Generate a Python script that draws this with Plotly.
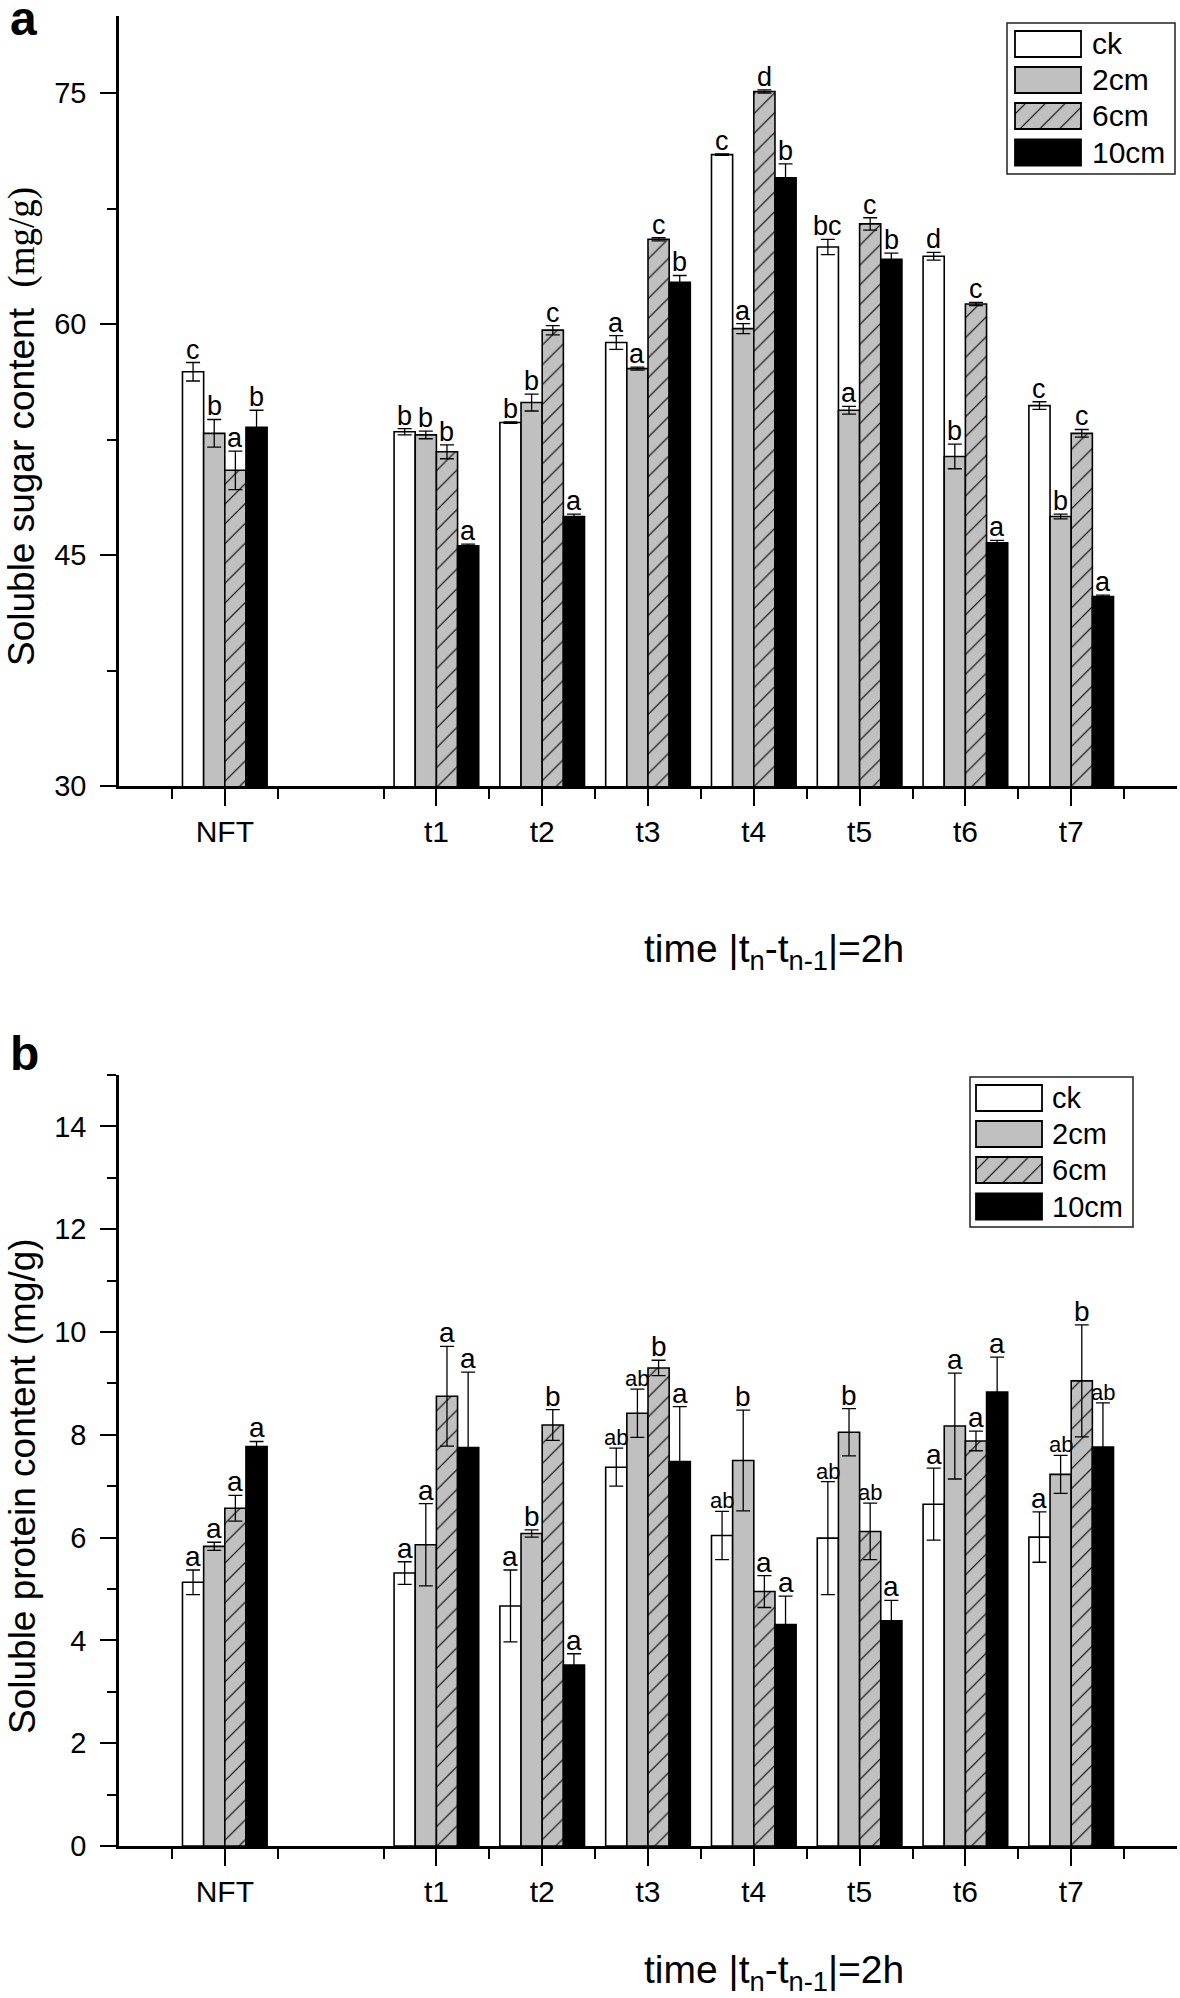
import plotly.graph_objects as go

# ---------------- data ----------------
categories = ["NFT", "t1", "t2", "t3", "t4", "t5", "t6", "t7"]
treatments = ["ck", "2cm", "6cm", "10cm"]

# panel a: soluble sugar content (mg/g)
sugar_ck = [56.9, 53.0, 53.6, 58.8, 71.0, 65.0, 64.4, 54.7]
sugar_2cm = [52.9, 52.8, 54.9, 57.1, 59.7, 54.4, 51.4, 47.5]
sugar_6cm = [50.5, 51.7, 59.6, 65.5, 75.1, 66.5, 61.3, 52.9]
sugar_10cm = [53.3, 45.6, 47.5, 62.7, 69.5, 64.2, 45.8, 42.3]
sugar_ck_err = [0.6, 0.2, 0.05, 0.45, 0.05, 0.5, 0.25, 0.25]
sugar_2cm_err = [0.9, 0.25, 0.55, 0.1, 0.33, 0.25, 0.8, 0.15]
sugar_6cm_err = [1.25, 0.45, 0.3, 0.1, 0.1, 0.4, 0.1, 0.25]
sugar_10cm_err = [1.1, 0.1, 0.15, 0.45, 0.9, 0.4, 0.15, 0.1]
sugar_ck_sig = ["c", "b", "b", "a", "c", "bc", "d", "c"]
sugar_2cm_sig = ["b", "b", "b", "a", "a", "a", "b", "b"]
sugar_6cm_sig = ["a", "b", "c", "c", "d", "c", "c", "c"]
sugar_10cm_sig = ["b", "a", "a", "b", "b", "b", "a", "a"]

# panel b: soluble protein content (mg/g)
protein_ck = [5.13, 5.31, 4.67, 7.37, 6.04, 5.99, 6.65, 6.01]
protein_2cm = [5.83, 5.86, 6.08, 8.42, 7.50, 8.05, 8.17, 7.23]
protein_6cm = [6.57, 8.75, 8.19, 9.30, 4.95, 6.12, 7.88, 9.05]
protein_10cm = [7.77, 7.75, 3.52, 7.48, 4.31, 4.38, 8.83, 7.76]
protein_ck_err = [0.24, 0.22, 0.70, 0.37, 0.47, 1.10, 0.70, 0.49]
protein_2cm_err = [0.08, 0.80, 0.07, 0.47, 0.98, 0.46, 1.03, 0.37]
protein_6cm_err = [0.25, 0.97, 0.30, 0.15, 0.31, 0.55, 0.19, 1.09]
protein_10cm_err = [0.10, 1.47, 0.22, 1.07, 0.55, 0.40, 0.68, 0.86]
protein_ck_sig = ["a", "a", "a", "ab", "ab", "ab", "a", "a"]
protein_2cm_sig = ["a", "a", "b", "ab", "b", "b", "a", "ab"]
protein_6cm_sig = ["a", "a", "b", "b", "a", "ab", "a", "b"]
protein_10cm_sig = ["a", "a", "a", "a", "a", "a", "a", "ab"]

sugar_yticks = [30, 45, 60, 75]
sugar_yminor = [37.5, 52.5, 67.5]
protein_yticks = [0, 2, 4, 6, 8, 10, 12, 14]
protein_yminor = [1, 3, 5, 7, 9, 11, 13, 15]

# ---------------- layout helpers ----------------
W, H = 1180, 1998
ML, MR, MT, MB = 119, 3, 16, 152
PW, PH = W - ML - MR, H - MT - MB


def px_x(px):
    return (px - ML) / PW


def px_y(py):
    return 1 - (py - MT) / PH


FONT = "Liberation Sans, Arial, Helvetica, sans-serif"

# category positions: NFT, an empty slot, then t1..t7
x_pos = [1] + [i + 2 for i in range(1, len(categories))]
x_min, x_max = 0, x_pos[-1] + 1
unlabeled_major = [v for v in range(x_min, x_max + 1) if v not in x_pos]
minor_vals = [v + 0.5 for v in range(x_min, x_max)]

styles = {
    "ck": dict(color="white"),
    "2cm": dict(color="#c0c0c0"),
    "6cm": dict(color="#c0c0c0",
                pattern=dict(shape="/", fgcolor="black", bgcolor="#c0c0c0",
                             size=14, solidity=0.08, fillmode="replace")),
    "10cm": dict(color="black"),
}
bar_width = 0.2
offsets = [(-1.5 + j) * bar_width for j in range(4)]

fig = go.Figure()

panels = [
    dict(xa="x", ya="y",
         vals=[sugar_ck, sugar_2cm, sugar_6cm, sugar_10cm],
         errs=[sugar_ck_err, sugar_2cm_err, sugar_6cm_err, sugar_10cm_err],
         sigs=[sugar_ck_sig, sugar_2cm_sig, sugar_6cm_sig, sugar_10cm_sig],
         sigsize=27, sigsize2=27),
    dict(xa="x2", ya="y2",
         vals=[protein_ck, protein_2cm, protein_6cm, protein_10cm],
         errs=[protein_ck_err, protein_2cm_err, protein_6cm_err, protein_10cm_err],
         sigs=[protein_ck_sig, protein_2cm_sig, protein_6cm_sig, protein_10cm_sig],
         sigsize=28, sigsize2=22),
]

annotations = []
for p in panels:
    for j, t in enumerate(treatments):
        st = styles[t]
        marker = dict(color=st["color"], line=dict(color="black", width=1.6))
        if "pattern" in st:
            marker["pattern"] = st["pattern"]
        fig.add_trace(go.Bar(
            x=x_pos, y=p["vals"][j], name=t, xaxis=p["xa"], yaxis=p["ya"],
            marker=marker, showlegend=False,
            error_y=dict(type="data", array=p["errs"][j], visible=True,
                         color="black", thickness=1.3, width=7),
        ))
        for i in range(len(categories)):
            s = p["sigs"][j][i]
            size = p["sigsize"] if len(s) == 1 else p["sigsize2"]
            annotations.append(dict(
                x=x_pos[i] + offsets[j], y=p["vals"][j][i] + p["errs"][j][i],
                xref=p["xa"], yref=p["ya"], text=s, showarrow=False,
                xanchor="center", yanchor="bottom", yshift=-4,
                font=dict(family=FONT, size=size, color="black"),
            ))

# ---------------- custom legends (inset axes) ----------------
legend_boxes = [
    dict(xa="x3", ya="y3", x0=1007, x1=1175, y0=23, y1=174, sw0=8, tx=83, fs=30),
    dict(xa="x4", ya="y4", x0=970, x1=1133, y0=1077, y1=1227, sw0=6, tx=80, fs=29),
]
row_centers = [21, 57, 93, 129.5]
shapes = []
for lb in legend_boxes:
    for j, t in enumerate(treatments):
        st = styles[t]
        marker = dict(color=st["color"], line=dict(color="black", width=1.8))
        if "pattern" in st:
            marker["pattern"] = st["pattern"]
        fig.add_trace(go.Bar(
            y=[row_centers[j]], x=[66], base=[lb["sw0"]], orientation="h",
            width=26, xaxis=lb["xa"], yaxis=lb["ya"], marker=marker,
            showlegend=False, hoverinfo="skip",
        ))
        annotations.append(dict(
            x=px_x(lb["x0"] + lb["tx"]), y=px_y(lb["y0"] + row_centers[j]),
            xref="paper", yref="paper", text=t, showarrow=False,
            xanchor="left", yanchor="middle",
            font=dict(family=FONT, size=lb["fs"], color="black"),
        ))
    shapes.append(dict(type="rect", xref="paper", yref="paper",
                       x0=px_x(lb["x0"]), x1=px_x(lb["x1"]),
                       y0=px_y(lb["y1"]), y1=px_y(lb["y0"]),
                       line=dict(color="#222", width=1.5), fillcolor="rgba(0,0,0,0)"))

# ---------------- titles / panel letters ----------------
title_font = dict(family=FONT, size=37, color="black")
xtitle = "time |t<sub>n</sub>-t<sub>n-1</sub>|=2h"
annotations += [
    dict(x=px_x(8), y=px_y(19), xref="paper", yref="paper", text="<b>a</b>",
         showarrow=False, xanchor="left", yanchor="middle",
         font=dict(family=FONT, size=48, color="black")),
    dict(x=px_x(8), y=px_y(1053), xref="paper", yref="paper", text="<b>b</b>",
         showarrow=False, xanchor="left", yanchor="middle",
         font=dict(family=FONT, size=48, color="black")),
    dict(x=px_x(22), y=px_y(427), xref="paper", yref="paper", textangle=-90,
         text="Soluble sugar content\u00a0\u00a0"
              "<span style='font-family:Liberation Serif'>(mg/g)</span>",
         showarrow=False, xanchor="center", yanchor="middle", font=title_font),
    dict(x=px_x(22), y=px_y(1486), xref="paper", yref="paper", textangle=-90,
         text="Soluble protein content (mg/g)",
         showarrow=False, xanchor="center", yanchor="middle", font=title_font),
    dict(x=px_x(774), y=px_y(951), xref="paper", yref="paper", text=xtitle,
         showarrow=False, xanchor="center", yanchor="middle",
         font=dict(family=FONT, size=39, color="black")),
    dict(x=px_x(774), y=px_y(1972), xref="paper", yref="paper", text=xtitle,
         showarrow=False, xanchor="center", yanchor="middle",
         font=dict(family=FONT, size=39, color="black")),
]

xaxis_common = dict(
    range=[x_min, x_max], showline=True, linecolor="black", linewidth=2.5,
    ticks="outside", ticklen=17, tickwidth=2, tickcolor="black",
    tickmode="array", tickvals=x_pos, ticktext=categories,
    tickfont=dict(family=FONT, size=30, color="black"),
    showgrid=False, zeroline=False, fixedrange=True,
    minor=dict(tickmode="array", tickvals=minor_vals, ticks="outside",
               ticklen=10, tickwidth=2, tickcolor="black", showgrid=False),
)
xaxis_extra = dict(
    range=[x_min, x_max], showline=False, ticks="outside", ticklen=17,
    tickwidth=2, tickcolor="black", tickmode="array", tickvals=unlabeled_major,
    showticklabels=False, showgrid=False, zeroline=False, fixedrange=True,
)
yaxis_common = dict(
    showline=True, linecolor="black", linewidth=2.5,
    ticks="outside", ticklen=16, tickwidth=2, tickcolor="black",
    tickfont=dict(family=FONT, size=29, color="black"), ticklabelstandoff=8,
    showgrid=False, zeroline=False, fixedrange=True, tickmode="array",
)
inset_common = dict(visible=False, fixedrange=True, showgrid=False, zeroline=False)

fig.update_layout(
    width=W, height=H, margin=dict(l=ML, r=MR, t=MT, b=MB, pad=0),
    paper_bgcolor="white", plot_bgcolor="white",
    barmode="group", bargap=0.2, bargroupgap=0,
    font=dict(family=FONT, color="black"),
    xaxis=dict(**xaxis_common, anchor="y", domain=[0, 1]),
    yaxis=dict(**yaxis_common, anchor="x", range=[30, 80],
               domain=[px_y(786), 1], tickvals=sugar_yticks,
               minor=dict(tickmode="array", tickvals=sugar_yminor, ticks="outside",
                          ticklen=9, tickwidth=2, tickcolor="black", showgrid=False)),
    xaxis2=dict(**xaxis_common, anchor="y2", domain=[0, 1]),
    yaxis2=dict(**yaxis_common, anchor="x2", range=[0, 15],
                domain=[0, px_y(1075)], tickvals=protein_yticks,
                minor=dict(tickmode="array", tickvals=protein_yminor, ticks="outside",
                           ticklen=9, tickwidth=2, tickcolor="black", showgrid=False)),
    xaxis3=dict(**inset_common, anchor="y3", range=[0, 168],
                domain=[px_x(1007), px_x(1175)]),
    yaxis3=dict(**inset_common, anchor="x3", range=[151, 0],
                domain=[px_y(174), px_y(23)]),
    xaxis4=dict(**inset_common, anchor="y4", range=[0, 163],
                domain=[px_x(970), px_x(1133)]),
    yaxis4=dict(**inset_common, anchor="x4", range=[150, 0],
                domain=[px_y(1227), px_y(1077)]),
    xaxis5=dict(**xaxis_extra, overlaying="x", anchor="y"),
    xaxis6=dict(**xaxis_extra, overlaying="x2", anchor="y2"),
    annotations=annotations,
    shapes=shapes,
)

fig.write_html("out.html", config={"displayModeBar": False},
               post_script="document.body.style.margin='0';")
